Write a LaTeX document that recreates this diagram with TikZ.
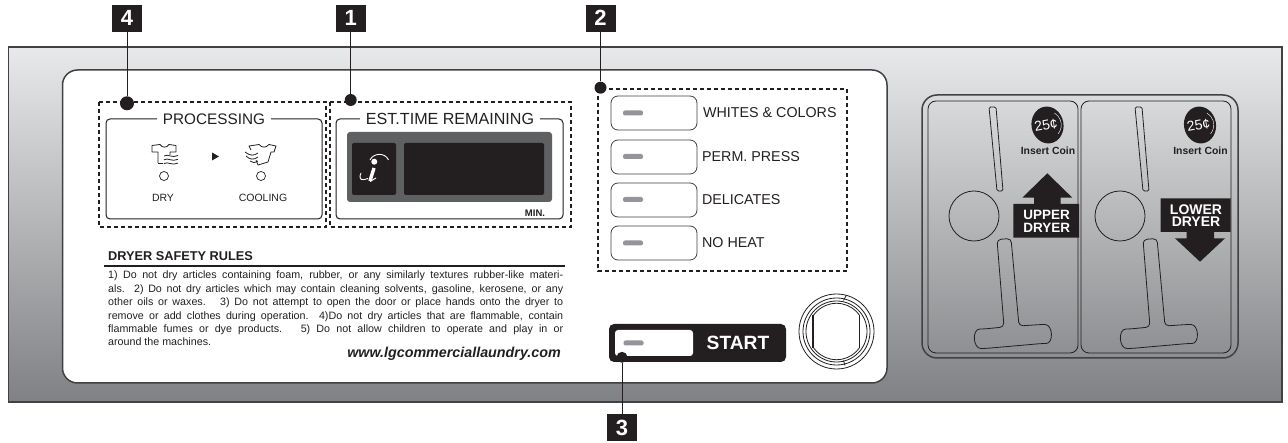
\documentclass[tikz,border=0pt]{standalone}
\usepackage{fontspec}
\setmainfont{Liberation Sans}
\usetikzlibrary{calc,positioning}

\definecolor{panelTop}{HTML}{E8E9EA}
\definecolor{panelBot}{HTML}{7F8184}
\definecolor{inkDark}{HTML}{231F20}
\definecolor{edgeDark}{HTML}{414042}
\definecolor{dispGrey}{HTML}{5F6062}
\definecolor{ledGrey}{HTML}{939598}

\begin{document}
\begin{tikzpicture}[
    x=1pt, y=-1pt,
    panelframe/.style={draw=edgeDark, line width=1.5pt},
    thinline/.style={draw=inkDark, line width=0.8pt},
    dashframe/.style={draw=inkDark, line width=1.7pt, dash pattern=on 4pt off 3pt},
    groupbox/.style={draw=inkDark, line width=1pt, rounded corners=4pt},
    titlelabel/.style={fill=white, inner xsep=6pt, inner ysep=1pt, text=inkDark,
                       font=\fontsize{15.3}{18}\selectfont},
    smalllabel/.style={text=inkDark, inner sep=0pt, font=\fontsize{10.5}{12}\selectfont},
    modebtn/.style={draw=edgeDark, line width=0.8pt, rounded corners=7pt, fill=white,
                    minimum width=86pt, minimum height=34pt, inner sep=0pt},
    modelabel/.style={anchor=west, inner sep=0pt, text=inkDark,
                      font=\fontsize{14.3}{17}\selectfont},
    ledbar/.style={fill=ledGrey, rounded corners=2pt, minimum width=20pt,
                   minimum height=5pt, inner sep=0pt},
    tag/.style={fill=inkDark, text=white, minimum width=30pt, minimum height=27pt,
                inner sep=0pt, font=\bfseries\fontsize{22}{24}\selectfont},
    tagdot/.style={circle, fill=inkDark, inner sep=0pt, minimum size=12pt},
    leader/.style={draw=inkDark, line width=0.9pt},
    darrowtxt/.style={text=white, align=center, inner sep=0pt,
                      font=\bfseries\fontsize{13.5}{12.6}\selectfont}
]
\useasboundingbox (0,0) rectangle (1288,443);

% ---- slit, round hole and T handle of one coin slot ----
\def\slotparts{
  \draw[thinline, rounded corners=1.5pt] (989,107) -- (996,107) -- (1003,191) -- (997,191) -- cycle;
  \draw[thinline] (974,216) circle (25);
  \draw[thinline, rounded corners=4pt] (997,239.5) -- (1011,238.5) -- (1019,326) -- (1041,324.5)
    to[out=0,in=0,looseness=1.6] (1042,343.5) -- (985,348.5)
    to[out=180,in=180,looseness=1.6] (984,329) -- (1004,327) -- cycle;
}
% ---- coin badge, #1 names its nodes ----
\def\coinbadge#1{
  \fill[inkDark, rotate around={10:(1047.5,125)}] (1047.5,125) ellipse (16 and 18.5);
  \draw[white, line width=0.4pt, rotate around={10:(1047.5,125)}] (1047.5,125)
    ++(50:13.8) arc (50:-50:13.8);
  \node[text=white, rotate=10, inner sep=0pt, font=\fontsize{14}{15}\selectfont] (#1coin) at (1046,125) {25¢};
  \node[text=inkDark, inner sep=0pt, font=\bfseries\fontsize{10.4}{12}\selectfont] (#1ins) at (1048,151) {Insert Coin};
}

% ===== PANEL =====
\draw[panelframe, top color=panelTop, bottom color=panelBot] (8.5,47) rectangle (1282,402);
\draw[panelframe, fill=white, rounded corners=15pt] (62.5,70) rectangle (887,383);

% ===== PROCESSING =====
\draw[dashframe] (99,102) rectangle (326,227);
\draw[groupbox] (106,119) rectangle (322,219);
\node[titlelabel] (proctitle) at (214,119) {PROCESSING};

% dry icon
\draw[thinline, line join=round] (158,163) -- (158,152) -- (152,152) -- (152,145.5) -- (160,144.5)
  .. controls (162,148) and (167,148) .. (169,144.5) -- (176,145.5) -- (176,152) -- (170,152) -- (170,155);
\draw[thinline] (158,163) -- (163,163);
\draw[thinline] (164,156) .. controls (168,153.5) and (172,158.5) .. (178,155.5);
\draw[thinline] (164,159.8) .. controls (168,157.3) and (172,162.3) .. (178,159.3);
\draw[thinline] (164,163.6) .. controls (168,161.1) and (172,166.1) .. (178,163.1);
\node[draw=inkDark, circle, line width=0.7pt, minimum size=9pt, inner sep=0pt] (dryled) at (164,176) {};
\node[smalllabel] (drylabel) at (163,198) {DRY};

\fill[inkDark] (212,152.5) -- (219,156.5) -- (212,160.5) -- cycle;

% cooling icon
\draw[thinline, line join=round] (251,150) -- (249,146) -- (259,144.5)
  .. controls (262,148) and (266,148) .. (269,144.5) -- (276,146) -- (274,152) -- (271,152)
  -- (268,162) -- (258,165) -- (256,160);
\draw[thinline] (245,152) .. controls (250,156) and (254,156) .. (258,153);
\draw[thinline] (246,156) .. controls (250,160) and (254,160) .. (258,157);
\draw[thinline] (250,161) .. controls (252,163) and (255,163) .. (258,161);
\node[draw=inkDark, circle, line width=0.7pt, minimum size=9pt, inner sep=0pt] (coolled) at (261,176) {};
\node[smalllabel] (coollabel) at (263,198) {COOLING};

% ===== TIME REMAINING =====
\draw[dashframe] (330,102) rectangle (571,227);
\draw[groupbox] (336,119) rectangle (563,219);
\node[titlelabel, font=\fontsize{16.1}{18}\selectfont] (timetitle) at (450,119) {EST.TIME REMAINING};

\fill[dispGrey, rounded corners=3pt] (347,132) rectangle (552,202);
\fill[inkDark, rounded corners=2pt] (352,143) rectangle (396,195);
\fill[inkDark, rounded corners=2pt] (404,143) rectangle (544,195);
% i logo
\fill[white] (374.3,161.7) circle (3);
\draw[white, line width=3.4pt] (374,168) -- (370,181);
\draw[white, line width=1pt] (370,181.5) -- (376,178);
\draw[white, line width=0.9pt] (370,160) .. controls (373,153) and (385,152) .. (388.5,160);
\draw[white, line width=0.9pt] (361,173) .. controls (358,180) and (362,181) .. (368,178.5);
\node[text=inkDark, inner sep=0pt, font=\bfseries\fontsize{9.5}{11}\selectfont] (minlabel) at (535,213) {MIN.};

% ===== CYCLE BUTTONS =====
\draw[dashframe] (598,89) rectangle (847,271);
\node[modebtn] (btnwhite) at (654,113) {};
\node[modebtn] (btnperm)  at (654,157) {};
\node[modebtn] (btndelic) at (654,200) {};
\node[modebtn] (btnheat)  at (654,243) {};
\node[ledbar] at (633,113) {};
\node[ledbar] at (633,156.5) {};
\node[ledbar] at (633,199.5) {};
\node[ledbar] at (633,243) {};
\node[modelabel, right=5.5pt of btnwhite] {WHITES \& COLORS};
\node[modelabel, right=4.5pt of btnperm]  {PERM. PRESS};
\node[modelabel, right=4.5pt of btndelic] {DELICATES};
\node[modelabel, right=4.5pt of btnheat]  {NO HEAT};

% ===== START =====
\fill[inkDark, rounded corners=5pt] (609,324) rectangle (786,362);
\fill[white, rounded corners=3pt] (615,330) rectangle (693,356);
\node[ledbar] at (633.5,343) {};
\node[text=white, inner sep=0pt, font=\bfseries\fontsize{19.2}{22}\selectfont] (startlabel) at (738,343) {START};

% knob
\coordinate (knob) at (836.5,331.5);
\draw[thinline] (knob) circle (37.5);
\draw[thinline] (knob) circle (33.5);
\draw[thinline] (knob) circle (30.5);
\begin{scope}
  \clip (813,290) rectangle (859.5,370);
  \draw[thinline] (knob) circle (28.2);
\end{scope}
\draw[thinline, line width=1.1pt] (813,315) -- (813,348);
\draw[thinline] (859.5,315) -- (859.5,348);
\draw[thinline] (846.5,295) -- (843.5,300.5);
\draw[thinline] (843.5,360.5) -- (845,365.5);

% ===== SAFETY RULES =====
\node[anchor=west, inner sep=0pt, text=inkDark, font=\bfseries\fontsize{12.75}{15}\selectfont] (rulestitle) at (108,256) {DRYER SAFETY RULES};
\draw[inkDark, line width=1.1pt] (104,266) -- (565,266);
\node[anchor=north west, inner sep=0pt, text width=455pt, align=justify, text=inkDark,
      font=\fontsize{10.7}{13.35}\selectfont] (rulestext) at (108,271) {%
1) Do not dry articles containing foam, rubber, or any similarly textures rubber-like materi-\linebreak
als.\ \ 2) Do not dry articles which may contain cleaning solvents, gasoline, kerosene, or any\linebreak
other oils or waxes.\ \ \ 3) Do not attempt to open the door or place hands onto the dryer to\linebreak
remove or add clothes during operation.\ \ 4)Do not dry articles that are flammable, contain\linebreak
flammable fumes or dye products.\ \ \ 5) Do not allow children to operate and play in or\linebreak
around the machines.};
\node[anchor=east, inner sep=0pt, text=inkDark, font=\bfseries\itshape\fontsize{14.3}{16}\selectfont] (urllabel) at (561,354) {www.lgcommerciallaundry.com};

% ===== COIN SLOTS =====
\draw[panelframe, rounded corners=15pt] (922,95) rectangle (1238,358);
\draw[thinline, rounded corners=8pt] (928,101) rectangle (1078,353);
\draw[thinline, rounded corners=8pt] (1081,101) rectangle (1231,353);
\slotparts
\coinbadge{upper}
\begin{scope}[xshift=146pt]
  \slotparts
\end{scope}
\begin{scope}[xshift=152.5pt]
  \coinbadge{lower}
\end{scope}

% upper arrow
\fill[inkDark] (1047.3,173.3) -- (1072.3,197.7) -- (1060.7,197.7) -- (1060.7,204) -- (1079,204)
  -- (1079,237.7) -- (1013.3,237.7) -- (1013.3,204) -- (1034,204) -- (1034,197.7) -- (1022.3,197.7) -- cycle;
\node[darrowtxt] (uppertxt) at (1046.7,221.5) {UPPER\\DRYER};

% lower arrow
\fill[inkDark] (1160.7,198.3) -- (1230.7,198.3) -- (1230.7,232) -- (1214,232) -- (1214,238.3) -- (1225,238.3)
  -- (1200,261.7) -- (1175,238.3) -- (1186.7,238.3) -- (1186.7,232) -- (1160.7,232) -- cycle;
\node[darrowtxt, font=\bfseries\fontsize{14}{12.6}\selectfont] (lowertxt) at (1196,215.5) {LOWER\\DRYER};

% ===== TAGS =====
\node[tag] (tagone)   at (350.7,18.3) {1};
\node[tag] (tagtwo)   at (600.5,18.3) {2};
\node[tag] (tagthree) at (622,427.5) {3};
\node[tag] (tagfour)  at (127,18.3) {4};
\node[tagdot] (dotone)   at (350.7,100) {};
\node[tagdot] (dottwo)   at (600.5,87.7) {};
\node[tagdot, minimum size=11pt] (dotthree) at (622,357.3) {};
\node[tagdot, minimum size=14pt] (dotfour)  at (127,103.3) {};
\draw[leader] (tagone) -- (dotone);
\draw[leader] (tagtwo) -- (dottwo);
\draw[leader] (tagthree) -- (dotthree);
\draw[leader] (tagfour) -- (dotfour);

\end{tikzpicture}
\end{document}
